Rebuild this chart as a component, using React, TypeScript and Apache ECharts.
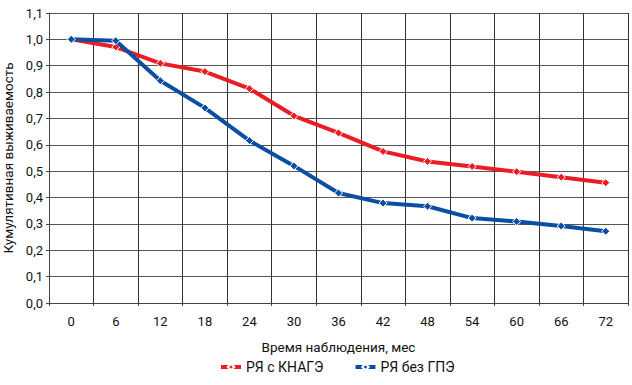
import React, { useEffect, useRef } from "react";
import * as echarts from "echarts";

const months = ["0", "6", "12", "18", "24", "30", "36", "42", "48", "54", "60", "66", "72"];
const seriesRedName = "РЯ с КНАГЭ";
const seriesBlueName = "РЯ без ГПЭ";
const redValues = [1.0, 0.971, 0.909, 0.878, 0.813, 0.71, 0.645, 0.575, 0.537, 0.518, 0.498, 0.477, 0.456];
const blueValues = [1.0, 0.995, 0.843, 0.74, 0.616, 0.52, 0.417, 0.379, 0.367, 0.322, 0.309, 0.292, 0.272];
const xAxisTitle = "Время наблюдения, мес";
const yAxisTitle = "Кумулятивная выживаемость";

const RED = "#ec1c24";
const BLUE = "#0a4fa3";
const FONT = "Roboto, 'Liberation Sans', sans-serif";

export default function App() {
  const ref = useRef<HTMLDivElement>(null);
  useEffect(() => {
    if (!ref.current) return;
    const chart = echarts.init(ref.current, null, { renderer: "svg" });
    const mk = (name: string, data: number[], color: string) => ({
      name,
      type: "line",
      data,
      symbol: "diamond",
      symbolSize: 8,
      lineStyle: { color, width: 4 },
      itemStyle: { color, borderColor: "#ffffff", borderWidth: 1 },
      z: name === seriesBlueName ? 3 : 2,
    });
    chart.setOption({
      animation: false,
      textStyle: { fontFamily: FONT },
      grid: { left: 49, right: 4, top: 13, bottom: 82, containLabel: false, outerBoundsMode: "none" },
      legend: {
        bottom: 6,
        left: 214,
        itemGap: 30,
        itemWidth: 20,
        itemHeight: 8,
        textStyle: { fontSize: 14, color: "#111", fontFamily: FONT },
        data: [
          { name: seriesRedName, lineStyle: { width: 4, color: RED } },
          { name: seriesBlueName, lineStyle: { width: 4, color: BLUE } },
        ],
      },
      xAxis: {
        type: "category",
        data: months,
        boundaryGap: true,
        name: xAxisTitle,
        nameLocation: "middle",
        nameGap: 37,
        nameTextStyle: { fontSize: 13.5, color: "#111", fontFamily: FONT },
        axisLine: { lineStyle: { color: "#444", width: 1 } },
        axisTick: { show: true, length: 3, lineStyle: { color: "#444" } },
        axisLabel: { fontSize: 13, color: "#111", margin: 12, fontFamily: FONT },
        splitLine: { show: true, lineStyle: { color: "#333", width: 1 } },
      },
      yAxis: {
        type: "value",
        min: 0,
        max: 1.1,
        interval: 0.1,
        name: yAxisTitle,
        nameLocation: "middle",
        nameGap: 31,
        nameTextStyle: { fontSize: 13.5, color: "#111", fontFamily: FONT },
        axisLine: { show: true, lineStyle: { color: "#444", width: 1 } },
        axisTick: { show: true, length: 3, lineStyle: { color: "#444" } },
        axisLabel: {
          fontSize: 13,
          color: "#111",
          margin: 6,
          fontFamily: FONT,
          formatter: (v: number) => v.toFixed(1).replace(".", ","),
        },
        splitLine: { show: true, lineStyle: { color: "#555", width: 1 } },
      },
      series: [mk(seriesRedName, redValues, RED), mk(seriesBlueName, blueValues, BLUE)],
    });
    return () => chart.dispose();
  }, []);
  return <div ref={ref} style={{ width: 632, height: 385, position: "absolute", left: 0, top: 0 }} />;
}
